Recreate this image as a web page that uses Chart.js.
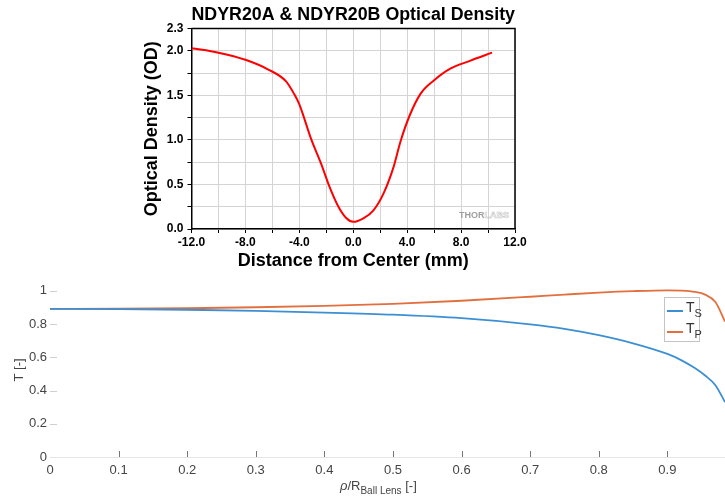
<!DOCTYPE html>
<html>
<head>
<meta charset="utf-8">
<script src="https://cdn.jsdelivr.net/npm/chart.js@4"></script>
<style>
  body { margin: 0; background: #fff; }
  #wrap { position: relative; width: 725px; height: 497px; overflow: hidden; font-family: "Liberation Sans", Arial, sans-serif; }
  #odChart { position: absolute; left: 120px; top: 0; }
  #tChart { position: absolute; left: 0; top: 272px; }
  #rhoTitle { position: absolute; left: 340px; top: 478px; font-size: 13px; color: #444; white-space: nowrap; }
  #rhoTitle sub { font-size: 10px; vertical-align: -4px; }
  #tLegend { position: absolute; left: 664px; top: 297px; width: 34px; height: 43px; border: 1px solid #c4c4c4; background: #fff; font-size: 14px; color: #333; }
  #tLegend sub { font-size: 11px; vertical-align: -5px; }
  #tLegend .row { position: absolute; left: 2px; height: 14px; }
  #tLegend .swatch { position: absolute; left: 0; top: 7px; width: 16px; height: 0; border-top: 2px solid; }
  #tLegend .lbl { position: absolute; left: 19px; top: -4px; }
</style>
</head>
<body>
<div id="wrap">
  <canvas id="odChart" width="464" height="272"></canvas>
  <canvas id="tChart" width="725" height="225"></canvas>
  <div id="rhoTitle"><i>&rho;</i>/R<sub>Ball Lens</sub> [-]</div>
  <div id="tLegend">
    <div class="row" style="top:5px"><div class="swatch" style="border-color:#3d8fd4"></div><span class="lbl">T<sub>S</sub></span></div>
    <div class="row" style="top:26px"><div class="swatch" style="border-color:#e2703f"></div><span class="lbl">T<sub>P</sub></span></div>
  </div>
</div>
<script>
// optical density across the filter
const distance = [-12, -10, -8, -6.3, -5, -4.4, -4.0, -3.1, -2.4, -1.75, -1.1, -0.5, 0, 0.75, 1.5, 2.25, 3.0, 3.5, 4.2, 5.0, 6.0, 7.2, 8.7, 10.3];
const od = [2.03, 1.98, 1.90, 1.79, 1.66, 1.52, 1.40, 1.0, 0.74, 0.47, 0.25, 0.12, 0.08, 0.12, 0.21, 0.40, 0.70, 0.98, 1.28, 1.52, 1.67, 1.80, 1.89, 1.98];

// transmission of s and p polarisation vs normalised radius
const rho = [0, 0.1, 0.2, 0.3, 0.4, 0.5, 0.6, 0.7, 0.75, 0.8, 0.85, 0.9, 0.92, 0.94, 0.955, 0.97, 0.984];
const tS = [0.891, 0.890, 0.886, 0.879, 0.869, 0.856, 0.835, 0.798, 0.771, 0.733, 0.684, 0.620, 0.583, 0.535, 0.49, 0.432, 0.33];
const tP = [0.891, 0.892, 0.895, 0.901, 0.909, 0.921, 0.940, 0.964, 0.977, 0.989, 0.998, 1.003, 1.001, 0.993, 0.977, 0.932, 0.815];

const sans = '"Liberation Sans", Arial, sans-serif';

// black box on top/right + logo in the corner
const frame = {
  id: 'frame',
  afterDraw(chart) {
    const a = chart.chartArea, c = chart.ctx;
    c.save();
    c.strokeStyle = '#000';
    c.lineWidth = 1.5;
    c.beginPath();
    c.moveTo(a.left, a.top);
    c.lineTo(a.right, a.top);
    c.lineTo(a.right, a.bottom);
    c.stroke();
    c.font = 'bold 9px ' + sans;
    c.textBaseline = 'alphabetic';
    const w1 = c.measureText('THOR').width, w2 = c.measureText('LABS').width;
    const x0 = a.right - 6 - w1 - w2, y0 = a.bottom - 11;
    c.fillStyle = '#a0a0a0';
    c.fillText('THOR', x0, y0);
    c.strokeStyle = '#c8c8c8';
    c.lineWidth = 0.6;
    c.strokeText('LABS', x0 + w1, y0);
    c.restore();
  }
};

new Chart(document.getElementById('odChart'), {
  type: 'line',
  data: {
    datasets: [{
      data: distance.map((d, i) => ({ x: d, y: od[i] })),
      borderColor: '#ff0000',
      borderWidth: 2,
      pointRadius: 0,
      cubicInterpolationMode: 'monotone',
      fill: false
    }]
  },
  options: {
    responsive: false,
    animation: false,
    layout: { padding: { left: 0, right: 69, top: 0, bottom: 0 } },
    plugins: {
      legend: { display: false },
      tooltip: { enabled: false },
      title: {
        display: true,
        fullSize: false,
        text: 'NDYR20A & NDYR20B Optical Density',
        color: '#000',
        font: { family: sans, size: 18, weight: 'bold' },
        padding: { top: 4, bottom: 3 }
      }
    },
    scales: {
      x: {
        type: 'linear',
        min: -12, max: 12,
        afterFit(s) { s.height = 43; },
        border: { color: '#000', width: 1.5 },
        grid: { color: '#d4d4d4', tickColor: '#000', tickLength: 4 },
        ticks: {
          stepSize: 2, autoSkip: false, maxRotation: 0, padding: 2,
          color: '#000', font: { family: sans, size: 12, weight: 'bold' },
          callback: v => (v % 4 === 0 ? v.toFixed(1) : '')
        },
        title: {
          display: true, text: 'Distance from Center (mm)', color: '#000',
          font: { family: sans, size: 18, weight: 'bold' }, padding: { top: 0, bottom: 0 }
        }
      },
      y: {
        min: 0, max: 2.25,
        afterFit(s) { s.width = 71.5; },
        border: { color: '#000', width: 1.5 },
        grid: { color: '#d4d4d4', tickColor: '#000', tickLength: 4 },
        ticks: {
          stepSize: 0.25, autoSkip: false, padding: 4,
          color: '#000', font: { family: sans, size: 12, weight: 'bold' },
          callback: v => (v === 2.25 ? '2.3' : (v % 0.5 === 0 ? v.toFixed(1) : ''))
        },
        title: {
          display: true, text: 'Optical Density (OD)', color: '#000',
          font: { family: sans, size: 18, weight: 'bold' }, padding: { top: 21, bottom: 0 }
        }
      }
    }
  },
  plugins: [frame]
});

// short tick marks pointing into the plot
const innerTicks = {
  id: 'innerTicks',
  afterDatasetsDraw(chart) {
    const a = chart.chartArea, c = chart.ctx;
    const xs = chart.scales.x, ys = chart.scales.y;
    c.save();
    c.lineWidth = 1;
    c.strokeStyle = '#777';
    xs.ticks.forEach(t => {
      if (t.value <= 0) return;
      const px = Math.round(xs.getPixelForValue(t.value)) + 0.5;
      c.beginPath(); c.moveTo(px, a.bottom); c.lineTo(px, a.bottom - 6); c.stroke();
    });
    c.strokeStyle = '#cfcfcf';
    ys.ticks.forEach(t => {
      if (t.value <= 0) return;
      const py = Math.round(ys.getPixelForValue(t.value)) + 0.5;
      c.beginPath(); c.moveTo(a.left, py); c.lineTo(a.left + 7, py); c.stroke();
    });
    c.restore();
  }
};

const fmt = v => String(+v.toFixed(2));

new Chart(document.getElementById('tChart'), {
  type: 'line',
  data: {
    datasets: [{
      label: 'T_S',
      data: rho.map((r, i) => ({ x: r, y: tS[i] })),
      borderColor: '#3d8fd4',
      borderWidth: 1.8,
      pointRadius: 0,
      cubicInterpolationMode: 'monotone'
    }, {
      label: 'T_P',
      data: rho.map((r, i) => ({ x: r, y: tP[i] })),
      borderColor: '#e2703f',
      borderWidth: 1.8,
      pointRadius: 0,
      cubicInterpolationMode: 'monotone'
    }]
  },
  options: {
    responsive: false,
    animation: false,
    layout: { padding: 0 },
    plugins: { legend: { display: false }, tooltip: { enabled: false } },
    scales: {
      x: {
        type: 'linear',
        min: 0, max: 0.984,
        afterFit(s) { s.height = 40; },
        border: { color: '#e6e6e6', width: 1 },
        grid: { display: false, drawTicks: false },
        ticks: {
          stepSize: 0.1, includeBounds: false, autoSkip: false, maxRotation: 0, padding: 6,
          color: '#444', font: { family: sans, size: 13 }, callback: fmt
        }
      },
      y: {
        min: 0, max: 1.048,
        afterFit(s) { s.width = 50; },
        border: { display: false },
        grid: { display: false, drawTicks: false },
        ticks: {
          stepSize: 0.2, includeBounds: false, padding: 3,
          color: '#444', font: { family: sans, size: 13 }, callback: fmt
        },
        title: {
          display: true, text: 'T [-]', color: '#444',
          font: { family: sans, size: 13 }, padding: { top: 12, bottom: 0 }
        }
      }
    }
  },
  plugins: [innerTicks]
});
</script>
</body>
</html>
